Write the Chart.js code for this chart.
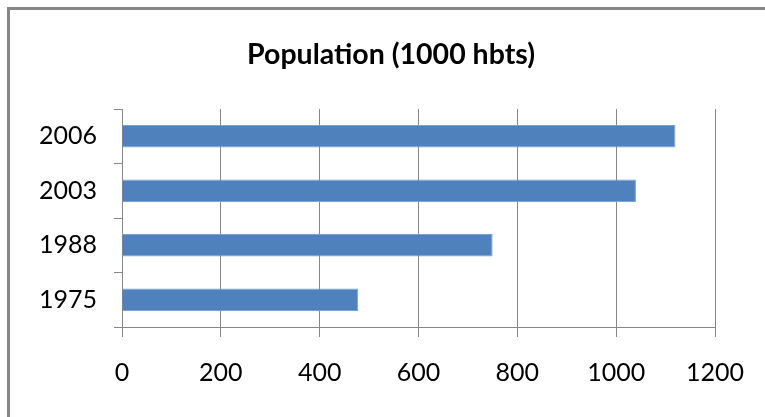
<!DOCTYPE html>
<html>
<head>
<meta charset="utf-8">
<script src="https://cdn.jsdelivr.net/npm/chart.js@4/dist/chart.umd.min.js"></script>
<style>
  html, body { margin: 0; padding: 0; background: #fff; }
  #frame {
    position: absolute; left: 7px; top: 7px; width: 800px; height: 450px;
    border-left: 3px solid #878787; border-top: 3px solid #878787;
  }
  #wrap { position: absolute; left: 0; top: 0; width: 765px; height: 417px; }
</style>
</head>
<body>
<div id="frame"></div>
<div id="wrap"><canvas id="chart" width="765" height="417"></canvas></div>
<script>
// Population by census year, in thousands of inhabitants
const years = ['2006', '2003', '1988', '1975'];
const population = [1120, 1040, 750, 478];
const titleText = 'Population (1000 hbts)';

const gray = '#878787';
const tickFont = { family: 'Lato', size: 25 };

new Chart(document.getElementById('chart'), {
  type: 'bar',
  data: {
    labels: years,
    datasets: [{
      data: population,
      backgroundColor: '#4F81BD',
      borderColor: '#7BA0D2',
      borderWidth: 1,
      barPercentage: 0.416,
      categoryPercentage: 1
    }]
  },
  options: {
    indexAxis: 'y',
    responsive: false,
    animation: false,
    layout: { padding: { left: 17, right: 0, top: 0, bottom: 0 } },
    plugins: {
      legend: { display: false },
      tooltip: { enabled: false },
      title: {
        display: true,
        text: titleText,
        color: '#000',
        font: { family: 'Lato', size: 28.5, weight: 'bold', lineHeight: 1.2 },
        padding: { top: 38, bottom: 36.8 }
      }
    },
    scales: {
      x: {
        min: 0,
        max: 1200,
        ticks: {
          stepSize: 200, color: '#000', font: tickFont, padding: 21, maxRotation: 0,
          callback: (v) => String(v)
        },
        grid: { color: gray, lineWidth: 1, tickLength: 10, drawOnChartArea: true },
        border: { display: true, color: gray },
        afterFit: (s) => { s.height = 90; s.paddingRight = 50; }
      },
      y: {
        ticks: { color: '#000', font: tickFont, padding: 17 },
        grid: { color: gray, offset: true, drawOnChartArea: false, tickLength: 8 },
        border: { display: true, color: gray },
        afterFit: (s) => { s.width = 105; }
      }
    }
  }
});
</script>
</body>
</html>
